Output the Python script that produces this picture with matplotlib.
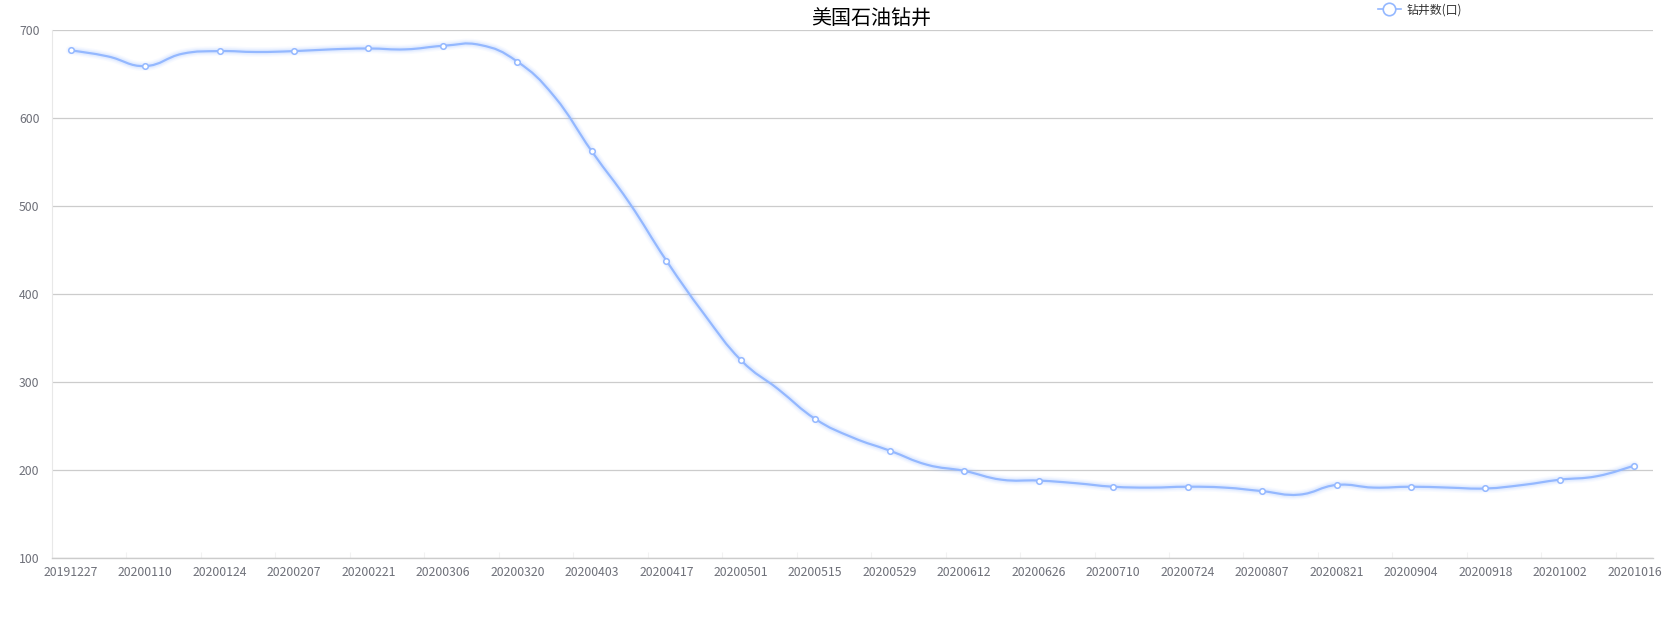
import numpy as np
import matplotlib
matplotlib.use("Agg")
import matplotlib.pyplot as plt
from matplotlib.path import Path
from matplotlib.patches import PathPatch
from matplotlib.lines import Line2D

plt.rcParams['font.family'] = ['Noto Sans CJK SC', 'DejaVu Sans']

# weekly US oil rig count
dates = [
    "20191227", "20200103", "20200110", "20200117", "20200124", "20200131",
    "20200207", "20200214", "20200221", "20200228", "20200306", "20200313",
    "20200320", "20200327", "20200403", "20200409", "20200417", "20200424",
    "20200501", "20200508", "20200515", "20200522", "20200529", "20200605",
    "20200612", "20200619", "20200626", "20200702", "20200710", "20200717",
    "20200724", "20200731", "20200807", "20200814", "20200821", "20200828",
    "20200904", "20200911", "20200918", "20200925", "20201002", "20201009",
    "20201016",
]
rigs = [
    677, 670, 659, 673, 676, 675,
    676, 678, 679, 678, 682, 683,
    664, 624, 562, 504, 438, 378,
    325, 292, 258, 237, 222, 206,
    199, 189, 188, 185, 181, 180,
    181, 180, 176, 172, 183, 180,
    181, 180, 179, 183, 189, 193,
    205,
]
y_ticks = [100, 200, 300, 400, 500, 600, 700]

title = "美国石油钻井"
series_name = "钻井数(口)"

line_color = "#94b8ff"
grid_color = "#cccccc"
label_color = "#6e7079"


def smooth_path(xs, ys, k=0.22):
    """Bezier path through the points, echarts-like smoothing"""
    pts = np.column_stack([xs, ys]).astype(float)
    n = len(pts)
    verts = [pts[0]]
    codes = [Path.MOVETO]
    for i in range(n - 1):
        p_prev = pts[i - 1] if i > 0 else pts[i]
        p0 = pts[i]
        p1 = pts[i + 1]
        p_next = pts[i + 2] if i + 2 < n else pts[i + 1]
        c1 = p0 + (p1 - p_prev) * k
        c2 = p1 - (p_next - p0) * k
        verts += [c1, c2, p1]
        codes += [Path.CURVE4] * 3
    return Path(np.array(verts), codes)


fig = plt.figure(figsize=(16.64, 6.19), dpi=100)
ax = fig.add_axes([52 / 1664, 61 / 619, (1653 - 52) / 1664, (589 - 61) / 619])

x = np.arange(len(dates))
path = smooth_path(x, rigs)

# soft glow under the line
for lw, a in [(7, 0.06), (5, 0.09), (3.5, 0.13)]:
    ax.add_patch(PathPatch(path, facecolor='none', edgecolor=line_color,
                           lw=lw, alpha=a, capstyle='round', joinstyle='round'))
ax.add_patch(PathPatch(path, facecolor='none', edgecolor=line_color, lw=1.6,
                       capstyle='round', joinstyle='round', zorder=3))

# symbols only on every other point, like the label interval
ax.plot(x[::2], np.array(rigs)[::2], linestyle='none', marker='o', markersize=4,
        markerfacecolor='white', markeredgecolor=line_color, markeredgewidth=1.1,
        zorder=4)

ax.set_xlim(-0.5, len(dates) - 0.5)
ax.set_ylim(y_ticks[0], y_ticks[-1])
ax.set_yticks(y_ticks)
ax.set_yticklabels([str(v) for v in y_ticks])
ax.set_xticks(x[::2])
ax.set_xticklabels(dates[::2])
ax.set_xticks(x[::2] - 0.5, minor=True)

ax.tick_params(axis='y', length=0, pad=9, labelsize=8.8, labelcolor=label_color)
ax.tick_params(axis='x', which='major', length=0, pad=6, labelsize=8.8,
               labelcolor=label_color)
ax.tick_params(axis='x', which='minor', length=4, direction='in', color='#f2f2f2',
               width=0.8)

ax.grid(axis='y', color=grid_color, linewidth=0.9)
ax.set_axisbelow(True)
for s in ['top', 'right']:
    ax.spines[s].set_visible(False)
ax.spines['left'].set_color('#e8e8e8')
ax.spines['left'].set_linewidth(0.8)
ax.spines['bottom'].set_color(grid_color)
ax.spines['bottom'].set_linewidth(1.0)

fig.text(871 / 1664, 1 - 19 / 619, title, ha='center', va='center',
         fontsize=14.4, color='black')

handle = Line2D([], [], color=line_color, lw=1.2, marker='o', markersize=9,
                markerfacecolor='white', markeredgecolor=line_color,
                markeredgewidth=1.2)
ax.legend([handle], [series_name], loc='center', frameon=False,
          bbox_to_anchor=(1420 / 1664, 1 - 10 / 619), bbox_transform=fig.transFigure,
          fontsize=8.6, handlelength=1.9, handletextpad=0.5, labelcolor='#333333',
          borderpad=0)

fig.savefig("out.png", dpi=100, facecolor='white')
